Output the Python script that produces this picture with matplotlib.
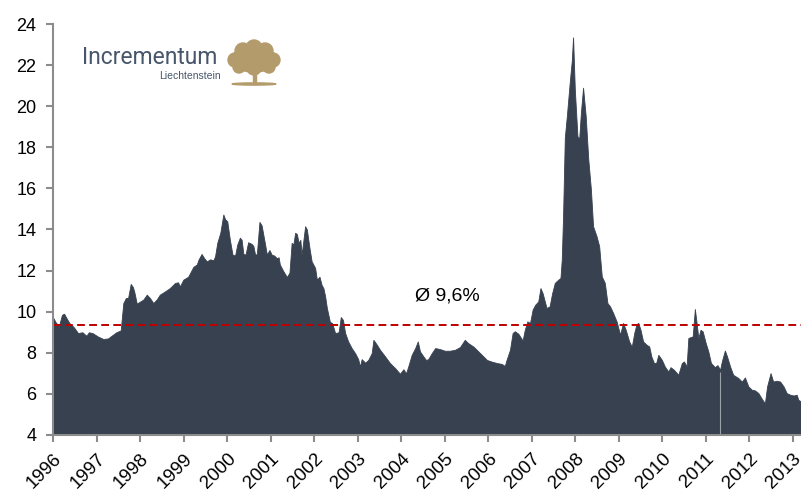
import numpy as np
import matplotlib.pyplot as plt
from matplotlib.patches import Ellipse, Circle, Rectangle

# values (fractional year, percent)
years = [1996.00, 1996.05, 1996.13, 1996.20, 1996.25, 1996.30, 1996.37, 1996.47, 1996.57, 1996.67,
         1996.76, 1996.82, 1996.91, 1997.02, 1997.15, 1997.26, 1997.34, 1997.45, 1997.55, 1997.61,
         1997.67, 1997.72, 1997.78, 1997.83, 1997.86, 1997.92, 1998.00, 1998.07, 1998.15, 1998.22,
         1998.30, 1998.38, 1998.45, 1998.57, 1998.68, 1998.80, 1998.87, 1998.91, 1998.99, 1999.10,
         1999.22, 1999.30, 1999.34, 1999.41, 1999.47, 1999.53, 1999.61, 1999.68, 1999.72, 1999.77,
         1999.84, 1999.91, 1999.95, 2000.00, 2000.06, 2000.12, 2000.18, 2000.23, 2000.29, 2000.33,
         2000.37, 2000.42, 2000.48, 2000.56, 2000.60, 2000.64, 2000.68, 2000.74, 2000.79, 2000.87,
         2000.91, 2000.97, 2001.02, 2001.08, 2001.14, 2001.18, 2001.21, 2001.29, 2001.37, 2001.43,
         2001.48, 2001.52, 2001.56, 2001.60, 2001.64, 2001.68, 2001.71, 2001.79, 2001.83, 2001.89,
         2001.94, 2002.02, 2002.06, 2002.12, 2002.17, 2002.21, 2002.25, 2002.29, 2002.36, 2002.41,
         2002.48, 2002.56, 2002.61, 2002.66, 2002.71, 2002.78, 2002.86, 2002.94, 2003.01, 2003.05,
         2003.09, 2003.17, 2003.24, 2003.32, 2003.36, 2003.44, 2003.51, 2003.63, 2003.74, 2003.86,
         2003.97, 2004.05, 2004.11, 2004.16, 2004.24, 2004.32, 2004.38, 2004.43, 2004.51, 2004.57,
         2004.62, 2004.70, 2004.78, 2004.89, 2005.00, 2005.12, 2005.24, 2005.35, 2005.46, 2005.54,
         2005.66, 2005.77, 2005.89, 2005.97, 2006.08, 2006.20, 2006.31, 2006.38, 2006.42, 2006.50,
         2006.56, 2006.61, 2006.69, 2006.73, 2006.79, 2006.84, 2006.90, 2006.96, 2007.02, 2007.08,
         2007.15, 2007.20, 2007.25, 2007.30, 2007.34, 2007.41, 2007.47, 2007.53, 2007.61, 2007.66,
         2007.69, 2007.72, 2007.76, 2007.81, 2007.88, 2007.92, 2007.95, 2007.99, 2008.05, 2008.09,
         2008.13, 2008.18, 2008.24, 2008.30, 2008.36, 2008.41, 2008.49, 2008.55, 2008.61, 2008.68,
         2008.74, 2008.80, 2008.87, 2008.95, 2009.03, 2009.10, 2009.16, 2009.24, 2009.30, 2009.36,
         2009.41, 2009.45, 2009.50, 2009.56, 2009.64, 2009.70, 2009.75, 2009.81, 2009.86, 2009.91,
         2009.99, 2010.06, 2010.14, 2010.19, 2010.27, 2010.37, 2010.45, 2010.50, 2010.56, 2010.60,
         2010.70, 2010.75, 2010.79, 2010.83, 2010.88, 2010.93, 2011.00, 2011.06, 2011.12, 2011.21,
         2011.27, 2011.33, 2011.37, 2011.44, 2011.49, 2011.56, 2011.63, 2011.75, 2011.83, 2011.90,
         2011.98, 2012.06, 2012.13, 2012.21, 2012.28, 2012.36, 2012.41, 2012.49, 2012.55, 2012.63,
         2012.71, 2012.79, 2012.86, 2012.94, 2013.02, 2013.09, 2013.13, 2013.19]
values = [9.70, 9.50, 9.30, 9.85, 9.90, 9.70, 9.45, 9.25, 8.96, 9.00,
          8.83, 9.00, 8.95, 8.80, 8.67, 8.70, 8.83, 9.00, 9.09, 10.42,
          10.67, 10.67, 11.35, 11.20, 10.99, 10.39, 10.50, 10.59, 10.83, 10.67,
          10.42, 10.60, 10.83, 10.99, 11.15, 11.40, 11.43, 11.23, 11.56, 11.70,
          12.18, 12.30, 12.54, 12.81, 12.60, 12.45, 12.55, 12.50, 12.70, 13.35,
          13.84, 14.73, 14.50, 14.40, 13.50, 12.78, 12.73, 13.27, 13.60, 13.50,
          12.81, 12.78, 13.38, 13.30, 13.20, 12.78, 12.80, 14.37, 14.20, 13.27,
          12.78, 13.00, 12.78, 12.73, 12.60, 12.65, 12.29, 11.97, 11.69, 11.90,
          13.35, 13.27, 13.84, 13.78, 13.35, 13.50, 12.78, 14.16, 14.00, 13.10,
          12.45, 12.13, 11.56, 11.70, 11.30, 11.15, 10.75, 10.18, 9.50, 9.45,
          8.96, 9.00, 9.74, 9.60, 8.96, 8.55, 8.23, 7.98, 7.69, 7.33,
          7.69, 7.52, 7.65, 7.98, 8.63, 8.39, 8.15, 7.82, 7.50, 7.25,
          6.98, 7.20, 7.00, 7.33, 7.90, 8.23, 8.55, 8.07, 7.82, 7.65,
          7.69, 7.98, 8.23, 8.18, 8.10, 8.10, 8.15, 8.28, 8.63, 8.47,
          8.30, 8.07, 7.82, 7.65, 7.57, 7.50, 7.46, 7.36, 7.65, 8.15,
          8.96, 9.05, 8.93, 8.80, 8.60, 9.12, 9.53, 9.45, 10.10, 10.34,
          10.50, 11.15, 10.90, 10.50, 10.18, 10.26, 10.91, 11.40, 11.56, 11.64,
          12.54, 14.65, 18.47, 19.60, 21.32, 22.20, 23.35, 20.83, 18.55, 18.39,
          19.69, 20.90, 19.53, 17.41, 15.95, 14.16, 13.67, 13.19, 11.72, 11.40,
          10.42, 10.26, 9.94, 9.53, 8.88, 9.45, 9.12, 8.55, 8.30, 9.00,
          9.40, 9.45, 9.12, 8.55, 8.39, 8.31, 7.82, 7.50, 7.50, 7.90,
          7.66, 7.33, 7.09, 7.30, 7.17, 6.93, 7.50, 7.58, 7.33, 8.72,
          8.80, 10.13, 9.45, 8.72, 9.12, 9.04, 8.47, 8.06, 7.50, 7.30,
          7.40, 7.17, 7.58, 8.11, 7.82, 7.33, 6.93, 6.77, 6.60, 6.80,
          6.36, 6.20, 6.17, 6.04, 5.79, 5.54, 6.36, 7.01, 6.60, 6.64,
          6.60, 6.36, 6.04, 5.96, 5.92, 5.96, 5.71, 5.63]

avg_level = 9.37
avg_label = "Ø 9,6%"
tick_years = list(range(1996, 2014))
gap_year = 2011.33

fill_color = "#37414f"
grey = "#8c8c8c"

fig = plt.figure(figsize=(8.01, 4.92), dpi=100)
ax = fig.add_axes([0.0665, 0.1159, 0.9335, 0.8353])

ax.fill_between(years, 0, values, color=fill_color, linewidth=0.6, edgecolor=fill_color)
ax.vlines(gap_year, 4, np.interp(gap_year, years, values) - 0.1, color="#9aa1aa", linewidth=0.8)
ax.axhline(avg_level, color="#c00000", linestyle=(0, (4, 2.2)), linewidth=1.4)
ax.text(2005.05, 10.78, avg_label, ha="center", va="center", fontsize=14,
        family="Liberation Sans")

ax.set_xlim(1996, 2013.19)
ax.set_ylim(4, 24)
ax.set_yticks(range(4, 25, 2))
ax.set_xticks(tick_years)
ax.set_xticklabels([str(y) for y in tick_years], rotation=45, ha="right",
                   rotation_mode="anchor", family="Liberation Sans", fontsize=13.5)
ax.set_yticklabels([str(v) for v in range(4, 25, 2)], family="Liberation Sans", fontsize=13)
ax.tick_params(axis="both", colors=grey, labelcolor="black", length=5, width=1.5)
ax.tick_params(axis="y", pad=7)
ax.tick_params(axis="x", pad=6)
for side in ["top", "right"]:
    ax.spines[side].set_visible(False)
for side in ["left", "bottom"]:
    ax.spines[side].set_color(grey)
    ax.spines[side].set_linewidth(1.5)

# logo
fig.text(82 / 801, 1 - 57 / 492, "Incrementum", fontsize=16.5, color="#47566a",
         family="Roboto", va="center", ha="left")
fig.text(221 / 801, 1 - 76 / 492, "Liechtenstein", fontsize=7.5, color="#47566a",
         family="Liberation Sans", va="center", ha="right")

tree = fig.add_axes([226 / 801, 1 - 90 / 492, 56 / 801, 52 / 492])
tree.set_xlim(0, 56)
tree.set_ylim(0, 52)
tree.axis("off")
gold = "#b39b6c"
tree.add_patch(Ellipse((28, 30), 48, 24, color=gold))
for cx, cy, r in [(9, 30, 7), (17, 39, 8), (28, 42, 8), (39, 39, 8), (47, 30, 7),
                  (13, 23, 6), (43, 23, 6), (28, 22, 7)]:
    tree.add_patch(Circle((cx, cy), r, color=gold))
tree.add_patch(Rectangle((26.5, 6), 3, 14, color=gold))
tree.add_patch(Ellipse((28, 6), 44, 2.2, color=gold))

fig.savefig("out.png", dpi=100)
